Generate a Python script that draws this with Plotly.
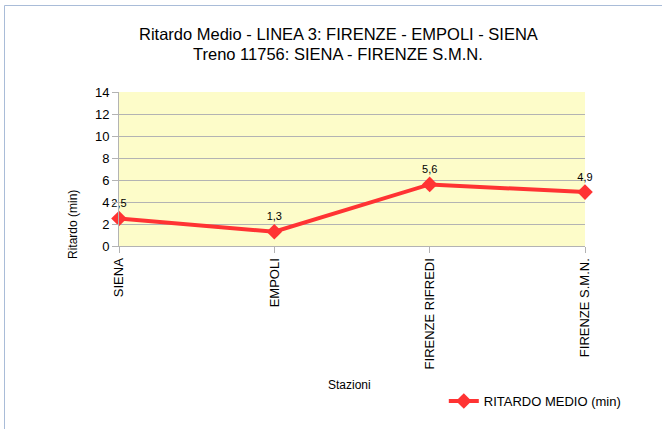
import plotly.graph_objects as go

# Ritardo medio per stazione, treno 11756
stazioni = ['SIENA', 'EMPOLI', 'FIRENZE RIFREDI', 'FIRENZE S.M.N.']
ritardo_medio = [2.5, 1.3, 5.6, 4.9]
y_ticks = [0, 2, 4, 6, 8, 10, 12, 14]
titolo = ['Ritardo Medio - LINEA 3: FIRENZE - EMPOLI - SIENA',
          'Treno 11756: SIENA - FIRENZE S.M.N.']

font_family = 'Liberation Sans, Arial, sans-serif'

W, H = 662, 429
L, T, R, B = 119, 92, 77, 183
pw, ph = W - L - R, H - T - B


def px_x(x):
    return (x - L) / pw


def px_y(y):
    return (H - B - y) / ph


fig = go.Figure()
fig.add_trace(go.Scatter(
    x=stazioni, y=ritardo_medio,
    mode='lines+markers+text',
    name='RITARDO MEDIO (min)',
    line=dict(color='#ff3333', width=4),
    marker=dict(symbol='diamond', size=12, color='#ff3333'),
    texttemplate='%{y:.1f}',
    textposition='top center',
    textfont=dict(size=11, color='#000000'),
    cliponaxis=False,
))

fig.update_layout(
    width=W, height=H,
    margin=dict(l=L, r=R, t=T, b=B),
    paper_bgcolor='white',
    plot_bgcolor='#fdfcc9',
    separators=',.',
    font=dict(family=font_family, color='#000000'),
    showlegend=True,
    legend=dict(
        orientation='h', x=0.697, xanchor='left', y=px_y(401), yanchor='middle',
        font=dict(size=13), bgcolor='rgba(0,0,0,0)',
    ),
)

fig.update_xaxes(
    type='category', range=[0, 3],
    tickangle=-90, tickfont=dict(size=13),
    ticks='outside', ticklen=6, tickcolor='#b3b3b3',
    showgrid=False, showline=True, linecolor='#b3b3b3', linewidth=1,
    zeroline=False,
)
fig.update_yaxes(
    range=[0, 14], tickvals=y_ticks,
    tickfont=dict(size=13),
    ticks='outside', ticklen=6, tickcolor='#b3b3b3',
    showgrid=True, gridcolor='#b3b3b3', gridwidth=1,
    showline=True, linecolor='#b3b3b3', linewidth=1,
    zeroline=False,
)

# title, two lines
for riga, ypix in zip(titolo, [34, 54]):
    fig.add_annotation(text=riga, xref='paper', yref='paper',
                       x=px_x(338), y=px_y(ypix), xanchor='center', yanchor='middle',
                       showarrow=False, font=dict(size=16.5))

# axis titles
fig.add_annotation(text='Ritardo (min)', xref='paper', yref='paper',
                   x=px_x(73), y=px_y(225), xanchor='center', yanchor='middle',
                   textangle=-90, showarrow=False, font=dict(size=12))
fig.add_annotation(text='Stazioni', xref='paper', yref='paper',
                   x=px_x(349), y=px_y(385), xanchor='center', yanchor='middle',
                   showarrow=False, font=dict(size=12))

# outer chart border
fig.add_shape(type='rect', xref='paper', yref='paper',
              x0=px_x(4.5), x1=2, y0=-3, y1=px_y(5.5),
              line=dict(color='#a9bcd8', width=1), layer='below')

# drop the default page margin so the figure sits at the window corner
fig.write_html('out.html', config={'displayModeBar': False},
               post_script="document.body.style.margin='0';")
